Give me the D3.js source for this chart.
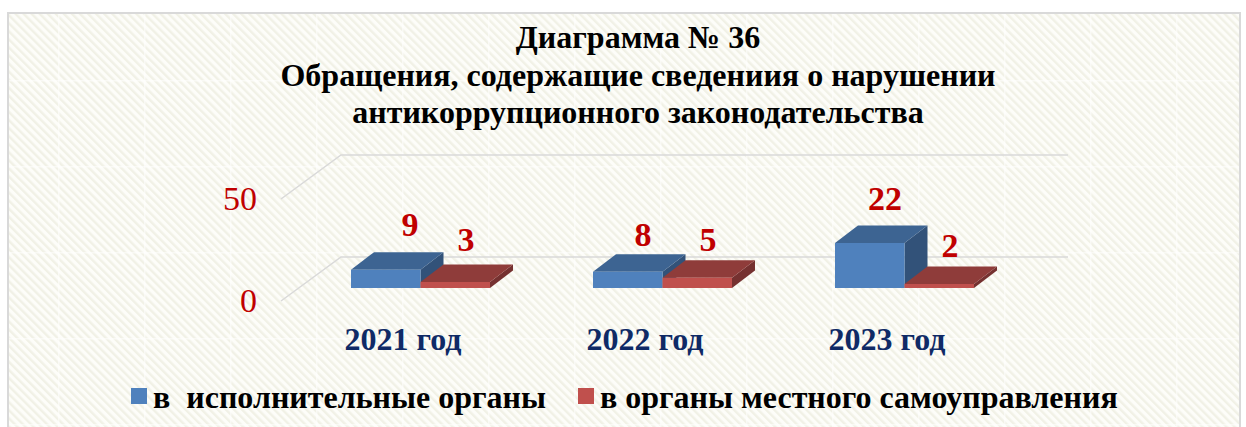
<!DOCTYPE html>
<html><head><meta charset="utf-8">
<script src="https://cdn.jsdelivr.net/npm/d3@7"></script>
<style>html,body{margin:0;padding:0;background:#fff}svg{display:block}text{font-family:"Liberation Serif",serif}</style>
</head><body><div id="c"></div>
<script>
const titleLines=["Диаграмма № 36","Обращения, содержащие сведениия о нарушении","антикоррупционного законодательства"];
const categories=["2021 год","2022 год","2023 год"];
const seriesNames=["в  исполнительные органы","в органы местного самоуправления"];
const executive=[9,8,22];
const local=[3,5,2];
const ticks=[0,50];
const W=1246,H=427,dx=23,dy=17.5;
const svg=d3.select("#c").append("svg").attr("width",W).attr("height",H);
const defs=svg.append("defs");
const p=defs.append("pattern").attr("id","st").attr("patternUnits","userSpaceOnUse").attr("width",5.7).attr("height",5.7).attr("patternTransform","rotate(-45)");
p.append("rect").attr("width",5.7).attr("height",5.7).attr("fill","#fdfdf9");
p.append("rect").attr("width",2.4).attr("height",5.7).attr("fill","#f1f1e6");
const seam=defs.append("pattern").attr("id","seam").attr("patternUnits","userSpaceOnUse").attr("width",86).attr("height",86).attr("x",58).attr("y",80);
seam.append("rect").attr("width",1.5).attr("height",86).attr("fill","#fff").attr("opacity",.55);
seam.append("rect").attr("width",86).attr("height",1.5).attr("fill","#fff").attr("opacity",.55);
svg.append("rect").attr("x",8).attr("y",13).attr("width",1232).attr("height",420).attr("fill","url(#st)").attr("stroke","#d9d9d9").attr("stroke-width",2);
svg.append("rect").attr("x",9).attr("y",14).attr("width",1230).attr("height",418).attr("fill","url(#seam)");
const y=d3.scaleLinear().domain([0,50]).range([288,186]);
const x=d3.scaleBand().domain(categories).range([351,351+242*3]).paddingInner(0).paddingOuter(0);
const bw=69.5;
const gy=v=>y(v)-31;
const g=svg.append("g");
g.selectAll("path.grid").data(ticks).join("path").attr("class","grid").attr("fill","none").attr("stroke","#d9d9d9").attr("stroke-width",1.5)
 .attr("d",v=>d3.line()([[281,gy(v)+44],[341,gy(v)],[1068,gy(v)]]));
g.selectAll("text.tick").data(ticks).join("text").attr("class","tick").attr("x",257).attr("y",v=>gy(v)+55).attr("text-anchor","end").attr("font-size",34).attr("fill","#c00000").text(d=>d);
function box(sel,x0,v,c){
 const t=y(v),b=y(0),r=x0+bw;
 const poly=(pts,f)=>sel.append("polygon").attr("points",pts.map(q=>q.join(",")).join(" ")).attr("fill",f);
 poly([[r,t],[r+dx,t-dy],[r+dx,b-dy],[r,b]],c.side);
 poly([[x0,t],[x0+dx,t-dy],[r+dx,t-dy],[r,t]],c.top);
 poly([[x0,t],[r,t],[r,b],[x0,b]],c.front);
}
const blue={front:"#4f81bd",top:"#3d6492",side:"#325279"},red={front:"#c0504d",top:"#8f3c3a",side:"#753130"};
categories.forEach((cat,i)=>{
 const x0=x(cat),s=g.append("g");
 box(s,x0,executive[i],blue);
 box(s,x0+bw,local[i],red);
});
const lab=(xx,yy,t,size,fill)=>svg.append("text").attr("x",xx).attr("y",yy).attr("text-anchor","middle").attr("font-size",size).attr("font-weight","bold").attr("fill",fill).text(t);
const nudgeA=[[9,0],[0,8],[0,0]],nudgeB=[[0,-6],[0,-2],[0,-2]];
categories.forEach((cat,i)=>{
 lab(x(cat)+52,350,cat,32,"#0f2a66");
 lab(x(cat)+50+nudgeA[i][0],y(executive[i])-dy-16+nudgeA[i][1],executive[i],34,"#c00000");
 lab(x(cat)+115,y(local[i])-dy-7+nudgeB[i][1],local[i],34,"#c00000");
});
titleLines.forEach((t,i)=>lab(638,[48,86,123][i],t,32,"#000"));
const leg=[[131,153,"#4f81bd"],[578,600,"#c0504d"]];
seriesNames.forEach((n,i)=>{
 svg.append("rect").attr("x",leg[i][0]).attr("y",388).attr("width",16).attr("height",16).attr("fill",leg[i][2]);
 svg.append("text").attr("x",leg[i][1]).attr("y",408).attr("font-size",32).attr("font-weight","bold").attr("xml:space","preserve").style("white-space","pre").text(n);
});
</script></body></html>
